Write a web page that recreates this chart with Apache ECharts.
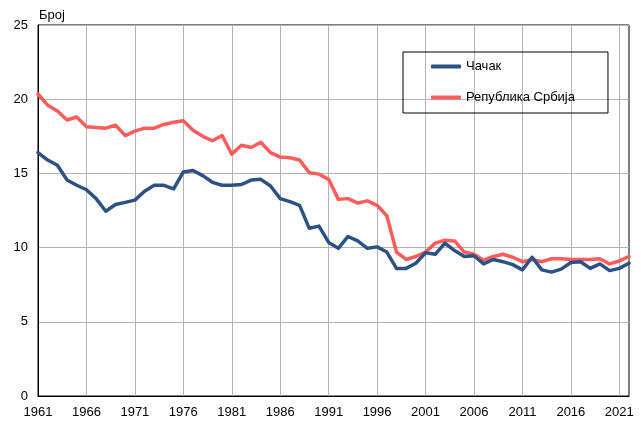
<!DOCTYPE html>
<html>
<head>
<meta charset="utf-8">
<script src="https://cdn.jsdelivr.net/npm/echarts@6/dist/echarts.min.js"></script>
<style>html,body{margin:0;padding:0;background:#fff}#c{width:641px;height:421px}</style>
</head>
<body>
<div id="c"></div>
<script>
const years = [];
for (let y = 1961; y <= 2022; y++) years.push(String(y));

const seriesNames = ['Чачак', 'Република Србија'];

const cacak = [
  16.4, 15.9, 15.55, 14.55, 14.2, 13.9, 13.3, 12.45, 12.9, 13.05,
  13.2, 13.8, 14.2, 14.2, 13.95, 15.1, 15.2, 14.85, 14.4, 14.2,
  14.2, 14.25, 14.55, 14.6, 14.15, 13.3, 13.1, 12.85, 11.3, 11.45,
  10.35, 9.95, 10.75, 10.45, 9.95, 10.05, 9.7, 8.6, 8.6, 8.95,
  9.65, 9.55, 10.3, 9.8, 9.4, 9.45, 8.9, 9.2, 9.05, 8.85,
  8.5, 9.35, 8.5, 8.35, 8.55, 9.0, 9.05, 8.6, 8.9, 8.45,
  8.6, 8.95
];

const srbija = [
  20.35, 19.6, 19.2, 18.6, 18.8, 18.15, 18.1, 18.05, 18.25, 17.55,
  17.85, 18.05, 18.05, 18.3, 18.45, 18.55, 17.9, 17.5, 17.2, 17.55,
  16.3, 16.9, 16.75, 17.1, 16.4, 16.1, 16.05, 15.9, 15.05, 14.95,
  14.6, 13.25, 13.3, 13.0, 13.15, 12.85, 12.15, 9.7, 9.2, 9.4,
  9.7, 10.3, 10.5, 10.45, 9.7, 9.55, 9.15, 9.4, 9.55, 9.35,
  9.05, 9.2, 9.05, 9.25, 9.25, 9.2, 9.2, 9.2, 9.25, 8.9,
  9.1, 9.4
];

const yTitle = 'Број';
const colors = ['#2e5184', '#ff5c5c'];
const FONT = 'Liberation Sans, Arial, sans-serif';

const chart = echarts.init(document.getElementById('c'), null, {renderer: 'canvas'});
chart.setOption({
  animation: false,
  backgroundColor: '#fff',
  title: {
    text: yTitle, left: 34, top: 4,
    textStyle: {fontFamily: FONT, fontSize: 13, fontWeight: 'normal', color: '#000'}
  },
  grid: {
    left: 38, right: 12, top: 25, bottom: 25,
    show: true, borderColor: '#000', borderWidth: 1, containLabel: false
  },
  legend: {
    orient: 'vertical',
    left: 403, top: 52,
    icon: 'roundRect',
    itemWidth: 30, itemHeight: 4, itemGap: 16,
    padding: [7, 33, 8, 28],
    borderColor: '#000', borderWidth: 1,
    textStyle: {fontFamily: FONT, fontSize: 13, color: '#000', lineHeight: 15},
    data: seriesNames
  },
  xAxis: {
    type: 'category',
    data: years,
    boundaryGap: false,
    axisLine: {show: true, lineStyle: {color: '#000', width: 1}},
    axisTick: {show: false},
    axisLabel: {interval: 4, color: '#000', fontFamily: FONT, fontSize: 13, margin: 10},
    splitLine: {show: true, interval: 4, lineStyle: {color: '#b4b4b4', width: 1}}
  },
  yAxis: {
    type: 'value',
    min: 0, max: 25, interval: 5,
    axisLine: {show: true, lineStyle: {color: '#000', width: 1}},
    axisTick: {show: false},
    axisLabel: {color: '#000', fontFamily: FONT, fontSize: 13, margin: 10},
    splitLine: {show: true, lineStyle: {color: '#b4b4b4', width: 1}}
  },
  series: [
    {
      name: seriesNames[0], type: 'line', data: cacak,
      symbol: 'none', color: colors[0],
      lineStyle: {width: 3.5, color: colors[0], cap: 'round', join: 'round'}
    },
    {
      name: seriesNames[1], type: 'line', data: srbija,
      symbol: 'none', color: colors[1], z: 1,
      lineStyle: {width: 3.5, color: colors[1], cap: 'round', join: 'round'}
    }
  ]
});
</script>
</body>
</html>
